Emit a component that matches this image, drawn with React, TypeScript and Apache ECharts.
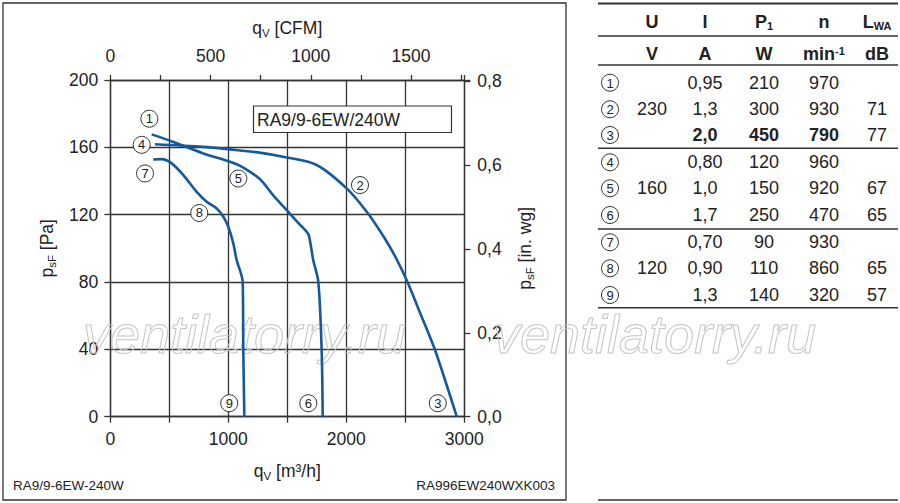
import { useEffect, useRef } from 'react';
import * as echarts from 'echarts';

const FONT = '"Liberation Sans", Arial, Helvetica, sans-serif';
const INK = '#222';
const LINE = '#333';
const CURVE_BLUE = '#14599b';

// q_V [m³/h] -> CFM and Pa -> in. wg
const CFM_PER_M3H = 0.58858;
const PA_PER_INWG = 249.089;

// fan curves: q_V in m³/h, p_sF in Pa
const flowA = [379, 788, 1014, 1250, 1495, 1749, 2003, 2173, 2325, 2427, 2512, 2635, 2752, 2936];
const pressureA = [161.8, 160.3, 158.8, 157, 154, 149.5, 135.6, 121.7, 106, 93.5, 81, 60, 39.6, 0];

const flowB = [351, 506, 788, 1014, 1127, 1269, 1381, 1523, 1608, 1678, 1692, 1720, 1763, 1791, 1800];
const pressureB = [167.7, 163.9, 156.4, 151.4, 148, 141, 131.5, 120.5, 114, 108.5, 104.5, 93, 80, 39.6, 0];

const flowC = [364, 435, 520, 619, 732, 817, 902, 958, 1000, 1042, 1071, 1122, 1127, 1136];
const pressureC = [152.8, 153, 150.5, 143.5, 133.6, 127.7, 123.7, 118.8, 112.8, 103, 93, 80, 39.6, 0];

// circled operating point markers
const pointIds = ['1', '2', '3', '4', '5', '6', '7', '8', '9'];
const pointFlow = [331, 2116, 2775, 266, 1085, 1678, 294, 754, 1008];
const pointPressure = [177, 137.6, 8, 161.5, 141.5, 8, 144.5, 121, 8];

// table on the right
const rowVoltage = ['', '230', '', '', '160', '', '', '120', ''];
const rowCurrent = ['0,95', '1,3', '2,0', '0,80', '1,0', '1,7', '0,70', '0,90', '1,3'];
const rowPower = ['210', '300', '450', '120', '150', '250', '90', '110', '140'];
const rowSpeed = ['970', '930', '790', '960', '920', '470', '930', '860', '320'];
const rowNoise = ['', '71', '77', '', '67', '65', '', '65', '57'];
const boldRows = [2];

const modelName = 'RA9/9-6EW/240W';
const footerLeft = 'RA9/9-6EW-240W';
const footerRight = 'RA996EW240WXK003';
const watermark = 'ventilatorry.ru';

const colX = [610, 652, 705, 764, 824, 877];
const rowY = [82.7, 109.3, 135, 162.3, 188.3, 215, 242.3, 268.3, 295];

function pairs(xs: number[], ys: number[]) {
  return xs.map((x, i) => [x, ys[i]]);
}

const nameRich = {
  m: { fontSize: 17.5, fontFamily: FONT, color: INK, lineHeight: 22 },
  s: { fontSize: 11.5, fontFamily: FONT, color: INK, lineHeight: 12, verticalAlign: 'bottom' as const }
};

function text(t: string, x: number, y: number, extra: Record<string, unknown> = {}) {
  return {
    type: 'text',
    x,
    y,
    silent: true,
    style: {
      text: t,
      fill: INK,
      fontSize: 18,
      fontFamily: FONT,
      align: 'center',
      verticalAlign: 'middle',
      ...extra
    }
  };
}

function hline(y: number, width = 1.4) {
  return {
    type: 'line',
    silent: true,
    shape: { x1: 598, y1: y, x2: 898, y2: y },
    style: { stroke: LINE, lineWidth: width }
  };
}

function circled(n: string, x: number, y: number) {
  return [
    {
      type: 'circle',
      silent: true,
      shape: { cx: x, cy: y, r: 8.5 },
      style: { fill: '#fff', stroke: LINE, lineWidth: 1 }
    },
    text(n, x, y + 0.5, { fontSize: 13 })
  ];
}

function buildGraphic() {
  const headRich = {
    b: { fontSize: 18, fontWeight: 'bold', fontFamily: FONT, color: INK },
    s: { fontSize: 11, fontWeight: 'bold', fontFamily: FONT, color: INK, verticalAlign: 'bottom' as const, lineHeight: 12 },
    p: { fontSize: 11, fontWeight: 'bold', fontFamily: FONT, color: INK, verticalAlign: 'top' as const, lineHeight: 12 }
  };
  const table: unknown[] = [
    hline(3.5, 2),
    hline(36),
    hline(65),
    hline(148.3),
    hline(229),
    hline(307.7),
    hline(500, 1.4),
    text('{b|U}', colX[1], 22, { rich: headRich }),
    text('{b|I}', colX[2], 22, { rich: headRich }),
    text('{b|P}{s|1}', colX[3], 22, { rich: headRich }),
    text('{b|n}', colX[4], 22, { rich: headRich }),
    text('{b|L}{s|WA}', colX[5], 22, { rich: headRich }),
    text('{b|V}', colX[1], 54, { rich: headRich }),
    text('{b|A}', colX[2], 54, { rich: headRich }),
    text('{b|W}', colX[3], 54, { rich: headRich }),
    text('{b|min}{p|-1}', colX[4], 54, { rich: headRich }),
    text('{b|dB}', colX[5], 54, { rich: headRich })
  ];
  rowY.forEach((y, i) => {
    const bold = boldRows.includes(i) ? 'bold' : 'normal';
    table.push(...circled(pointIds[i], colX[0], y));
    table.push(text(rowVoltage[i], colX[1], y));
    table.push(text(rowCurrent[i], colX[2], y, { fontWeight: bold }));
    table.push(text(rowPower[i], colX[3], y, { fontWeight: bold }));
    table.push(text(rowSpeed[i], colX[4], y, { fontWeight: bold }));
    table.push(text(rowNoise[i], colX[5], y));
  });

  return [
    {
      type: 'rect',
      silent: true,
      z: 0,
      shape: { x: 3, y: 3, width: 563, height: 497 },
      style: { fill: 'none', stroke: LINE, lineWidth: 1.3 }
    },
    {
      type: 'rect',
      silent: true,
      z: 10,
      shape: { x: 253.5, y: 106, width: 198, height: 26.5 },
      style: { fill: '#fff', stroke: LINE, lineWidth: 1.2 }
    },
    { ...text(modelName, 257, 119.5, { align: 'left', fontSize: 17.5 }), z: 11 },
    text(footerLeft, 13, 485, { align: 'left', fontSize: 13.5 }),
    text(footerRight, 555, 485, { align: 'right', fontSize: 13.5 }),
    ...table,
    ...[83, 493].map((x) => ({
      type: 'text',
      x,
      y: 361,
      silent: true,
      z: 1,
      style: {
        text: watermark,
        fill: 'rgba(0,0,0,0)',
        stroke: '#c4c4c4',
        lineWidth: 1,
        fontSize: 54,
        fontStyle: 'italic',
        fontFamily: FONT,
        align: 'left',
        verticalAlign: 'bottom'
      }
    }))
  ];
}

const axisLineStyle = { color: LINE, width: 1.3 };
const labelStyle = { fontSize: 17.5, color: INK, fontFamily: FONT };

function onStep(v: number, step: number) {
  return Math.abs(v / step - Math.round(v / step)) < 1e-6;
}

function buildOption() {
  return {
    animation: false,
    backgroundColor: '#fff',
    grid: { left: 110.3, top: 80, width: 354, height: 336.7 },
    xAxis: [
      {
        type: 'value',
        position: 'bottom',
        min: 0,
        max: 3000,
        interval: 500,
        axisLine: { show: true, onZero: false, lineStyle: axisLineStyle },
        axisTick: { show: true, length: 6, lineStyle: axisLineStyle },
        axisLabel: { ...labelStyle, margin: 13, formatter: (v: number) => (onStep(v, 1000) ? String(v) : '') },
        splitLine: { show: true, lineStyle: axisLineStyle },
        name: '{m|q}{s|V}{m| [m³/h]}',
        nameLocation: 'middle',
        nameGap: 43,
        nameTextStyle: { rich: nameRich }
      },
      {
        type: 'value',
        position: 'top',
        min: 0,
        max: 3000 * CFM_PER_M3H,
        interval: 250,
        axisLine: { show: true, onZero: false, lineStyle: axisLineStyle },
        axisTick: { show: true, length: 5, lineStyle: axisLineStyle },
        axisLabel: { ...labelStyle, margin: 15, formatter: (v: number) => (onStep(v, 500) ? String(v) : '') },
        splitLine: { show: false },
        name: '{m|q}{s|V}{m| [CFM]}',
        nameLocation: 'middle',
        nameGap: 41,
        nameTextStyle: { rich: nameRich }
      }
    ],
    yAxis: [
      {
        type: 'value',
        position: 'left',
        min: 0,
        max: 200,
        interval: 40,
        axisLine: { show: true, onZero: false, lineStyle: axisLineStyle },
        axisTick: { show: true, length: 6, lineStyle: axisLineStyle },
        axisLabel: { ...labelStyle, margin: 12 },
        splitLine: { show: true, lineStyle: axisLineStyle },
        name: '{m|p}{s|sF}{m| [Pa]}',
        nameLocation: 'middle',
        nameRotate: 90,
        nameGap: 52,
        nameTextStyle: { rich: nameRich }
      },
      {
        type: 'value',
        position: 'right',
        min: 0,
        max: 200 / PA_PER_INWG,
        interval: 0.2,
        axisLine: { show: true, onZero: false, lineStyle: axisLineStyle },
        axisTick: { show: true, length: 6, lineStyle: axisLineStyle },
        axisLabel: {
          ...labelStyle,
          margin: 13,
          formatter: (v: number) => (onStep(v, 0.2) ? v.toFixed(1).replace('.', ',') : '')
        },
        splitLine: { show: false },
        name: '{m|p}{s|sF}{m| [in. wg]}',
        nameLocation: 'middle',
        nameRotate: 90,
        nameGap: 50,
        nameTextStyle: { rich: nameRich }
      }
    ],
    series: [
      ...[pairs(flowA, pressureA), pairs(flowB, pressureB), pairs(flowC, pressureC)].map((data, i) => ({
        name: ['230 V', '160 V', '120 V'][i],
        type: 'line',
        xAxisIndex: 0,
        yAxisIndex: 0,
        data,
        smooth: 0.3,
        showSymbol: false,
        silent: true,
        z: 3,
        lineStyle: { color: CURVE_BLUE, width: 2.6 }
      })),
      {
        name: 'points',
        type: 'scatter',
        xAxisIndex: 0,
        yAxisIndex: 0,
        data: pointIds.map((id, i) => ({ name: id, value: [pointFlow[i], pointPressure[i]] })),
        symbol: 'circle',
        symbolSize: 17,
        silent: true,
        z: 4,
        itemStyle: { color: '#fff', borderColor: LINE, borderWidth: 1, opacity: 1 },
        label: {
          show: true,
          position: 'inside',
          formatter: (p: { name: string }) => p.name,
          fontSize: 13,
          color: INK,
          fontFamily: FONT
        }
      }
    ],
    graphic: buildGraphic()
  };
}

export default function App() {
  const ref = useRef<HTMLDivElement | null>(null);

  useEffect(() => {
    if (!ref.current) return undefined;
    const chart = echarts.init(ref.current, undefined, { renderer: 'svg' });
    chart.setOption(buildOption() as echarts.EChartsOption);
    return () => chart.dispose();
  }, []);

  return (
    <div
      ref={ref}
      style={{ position: 'absolute', left: 0, top: 0, width: 900, height: 503, background: '#fff' }}
    />
  );
}
